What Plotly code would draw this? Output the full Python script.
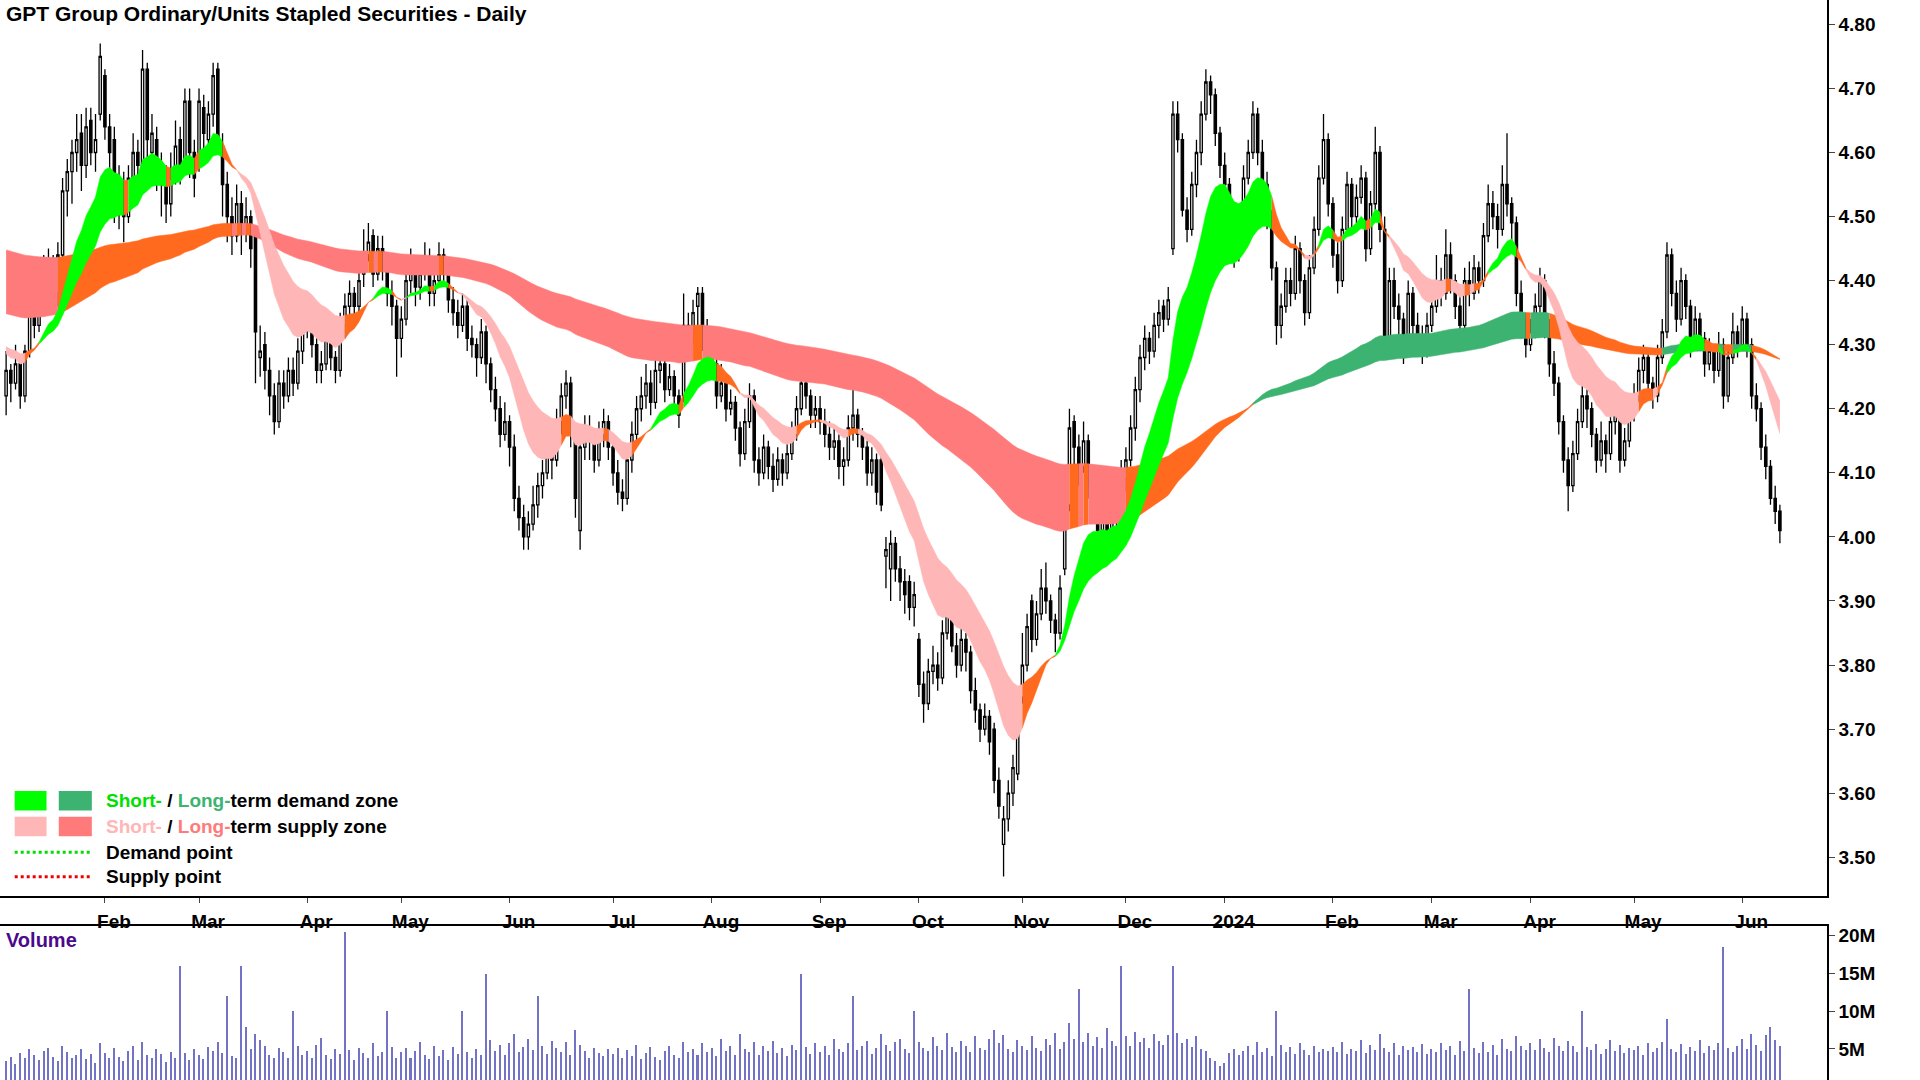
import plotly.graph_objects as go
import numpy as np

# ---------------- data (o, h, l, c) per trading day ----------------
jan23 = [(4.22,4.29,4.19,4.26),(4.26,4.27,4.21,4.24),(4.24,4.30,4.23,4.27),(4.27,4.28,4.20,4.22),(4.22,4.30,4.21,4.29),
         (4.29,4.38,4.28,4.36),(4.38,4.40,4.31,4.33),(4.33,4.40,4.32,4.38),(4.38,4.44,4.36,4.40),(4.40,4.45,4.36,4.42),
         (4.43,4.44,4.35,4.38),(4.38,4.46,4.36,4.44),(4.44,4.56,4.43,4.54),(4.54,4.59,4.50,4.57),(4.57,4.62,4.52,4.60),
         (4.60,4.66,4.57,4.62),(4.63,4.66,4.54,4.58),(4.58,4.67,4.56,4.64),(4.65,4.67,4.58,4.60),(4.60,4.66,4.57,4.62),
         (4.66,4.77,4.65,4.75)]
feb23 = [(4.72,4.73,4.62,4.64),(4.64,4.66,4.57,4.60),(4.62,4.64,4.49,4.52),(4.51,4.58,4.48,4.55),(4.55,4.57,4.46,4.50),
         (4.50,4.58,4.49,4.56),(4.56,4.63,4.54,4.60),(4.60,4.62,4.55,4.58),(4.57,4.76,4.56,4.73),(4.73,4.74,4.59,4.62),
         (4.60,4.66,4.57,4.63),(4.62,4.64,4.54,4.57),(4.57,4.60,4.50,4.55),(4.55,4.58,4.49,4.52),(4.52,4.60,4.50,4.56),
         (4.56,4.65,4.55,4.61),(4.62,4.64,4.55,4.58),(4.58,4.70,4.57,4.68),(4.68,4.70,4.56,4.60),(4.60,4.62,4.53,4.56)]
mar23 = [(4.58,4.70,4.57,4.68),(4.67,4.69,4.60,4.63),(4.62,4.68,4.60,4.66),(4.66,4.74,4.64,4.72),(4.73,4.74,4.60,4.62),
         (4.61,4.63,4.50,4.55),(4.55,4.57,4.46,4.50),(4.50,4.53,4.44,4.47),(4.47,4.55,4.46,4.52),(4.52,4.54,4.44,4.48),
         (4.48,4.53,4.46,4.50),(4.50,4.51,4.42,4.45),(4.47,4.48,4.24,4.32),(4.28,4.33,4.25,4.29),(4.30,4.32,4.23,4.26),
         (4.26,4.28,4.19,4.22),(4.22,4.24,4.16,4.18),(4.18,4.26,4.17,4.24),(4.24,4.26,4.20,4.22),(4.22,4.28,4.21,4.26),
         (4.26,4.28,4.22,4.24),(4.24,4.31,4.23,4.29),(4.29,4.35,4.27,4.33)]
apr23 = [(4.33,4.38,4.31,4.36),(4.36,4.37,4.28,4.30),(4.30,4.31,4.24,4.26),(4.26,4.29,4.24,4.27),(4.27,4.33,4.26,4.31),
         (4.31,4.32,4.26,4.28),(4.28,4.29,4.24,4.26),(4.26,4.35,4.25,4.33),(4.33,4.38,4.31,4.36),(4.36,4.40,4.34,4.38),
         (4.38,4.39,4.33,4.36),(4.36,4.42,4.35,4.40),(4.41,4.48,4.39,4.44),(4.44,4.49,4.43,4.46),(4.47,4.48,4.39,4.41),
         (4.41,4.47,4.40,4.45),(4.45,4.47,4.40,4.43),(4.43,4.44,4.36,4.38),(4.38,4.40,4.33,4.36),(4.36,4.37,4.25,4.31)]
may23 = [(4.31,4.36,4.28,4.34),(4.34,4.42,4.33,4.40),(4.40,4.45,4.38,4.42),(4.42,4.44,4.36,4.39),(4.39,4.43,4.37,4.41),
         (4.41,4.46,4.40,4.43),(4.43,4.45,4.36,4.38),(4.38,4.42,4.36,4.40),(4.40,4.46,4.39,4.44),(4.44,4.45,4.39,4.41),
         (4.41,4.42,4.35,4.37),(4.37,4.39,4.33,4.35),(4.35,4.37,4.31,4.33),(4.33,4.38,4.32,4.36),(4.36,4.37,4.29,4.31),
         (4.31,4.33,4.28,4.30),(4.30,4.31,4.25,4.28),(4.28,4.34,4.27,4.32),(4.32,4.33,4.24,4.27),(4.27,4.28,4.21,4.23),
         (4.23,4.25,4.18,4.20),(4.20,4.22,4.14,4.16),(4.16,4.21,4.15,4.18)]
jun23 = [(4.18,4.19,4.11,4.14),(4.14,4.16,4.04,4.06),(4.06,4.08,4.01,4.03),(4.03,4.05,3.98,4.00),(4.00,4.04,3.98,4.02),
         (4.02,4.08,4.01,4.05),(4.05,4.10,4.03,4.08),(4.08,4.12,4.06,4.10),(4.10,4.16,4.09,4.13),(4.13,4.15,4.09,4.12),
         (4.12,4.20,4.11,4.18),(4.18,4.24,4.16,4.22),(4.22,4.26,4.20,4.24),(4.24,4.25,4.14,4.16),(4.16,4.17,4.03,4.06),
         (4.01,4.16,3.98,4.14),(4.14,4.19,4.12,4.17),(4.17,4.19,4.12,4.15),(4.15,4.17,4.10,4.12),(4.12,4.18,4.11,4.16),
         (4.16,4.20,4.14,4.18),(4.18,4.19,4.12,4.14)]
jul23 = [(4.14,4.15,4.08,4.10),(4.10,4.12,4.05,4.07),(4.07,4.09,4.04,4.06),(4.06,4.14,4.05,4.12),(4.12,4.18,4.10,4.16),
         (4.16,4.22,4.15,4.20),(4.20,4.25,4.18,4.22),(4.22,4.27,4.20,4.24),(4.24,4.26,4.19,4.21),(4.21,4.28,4.20,4.26),
         (4.26,4.30,4.24,4.27),(4.27,4.28,4.21,4.23),(4.23,4.27,4.22,4.25),(4.25,4.26,4.20,4.22),(4.22,4.23,4.17,4.19),
         (4.22,4.38,4.21,4.33),(4.33,4.35,4.28,4.31),(4.31,4.37,4.30,4.35),(4.36,4.39,4.33,4.38),(4.38,4.39,4.29,4.32),
         (4.32,4.34,4.28,4.30)]
aug23 = [(4.30,4.31,4.25,4.27),(4.27,4.29,4.20,4.22),(4.22,4.27,4.21,4.24),(4.24,4.25,4.18,4.20),(4.20,4.23,4.19,4.21),
         (4.21,4.22,4.15,4.17),(4.17,4.18,4.11,4.13),(4.13,4.20,4.12,4.18),(4.18,4.24,4.17,4.22),(4.22,4.23,4.10,4.12),
         (4.12,4.14,4.08,4.10),(4.10,4.16,4.09,4.14),(4.14,4.15,4.09,4.11),(4.11,4.13,4.07,4.09),(4.09,4.14,4.08,4.12),
         (4.12,4.13,4.08,4.10),(4.10,4.15,4.09,4.13),(4.13,4.18,4.12,4.16),(4.16,4.22,4.15,4.20),(4.20,4.27,4.19,4.24),
         (4.24,4.26,4.20,4.22),(4.22,4.23,4.17,4.19),(4.19,4.22,4.17,4.20)]
sep23 = [(4.20,4.22,4.16,4.18),(4.18,4.20,4.14,4.16),(4.16,4.18,4.12,4.14),(4.14,4.17,4.12,4.15),(4.15,4.16,4.09,4.11),
         (4.11,4.14,4.08,4.12),(4.12,4.19,4.11,4.17),(4.17,4.25,4.15,4.19),(4.19,4.20,4.14,4.16),(4.16,4.17,4.12,4.14),
         (4.14,4.15,4.08,4.10),(4.10,4.14,4.08,4.12),(4.12,4.13,4.05,4.07),(4.12,4.13,4.04,4.05),(3.97,4.00,3.92,3.98),
         (3.95,4.01,3.90,3.99),(3.99,4.00,3.93,3.95),(3.95,3.97,3.90,3.93),(3.93,3.95,3.88,3.91),(3.93,3.94,3.87,3.89),
         (3.89,3.93,3.86,3.91)]
oct23 = [(3.84,3.85,3.75,3.77),(3.77,3.79,3.71,3.74),(3.74,3.81,3.73,3.79),(3.79,3.83,3.77,3.80),(3.80,3.82,3.76,3.78),
         (3.78,3.87,3.77,3.85),(3.85,3.93,3.84,3.88),(3.88,3.89,3.82,3.83),(3.83,3.85,3.78,3.80),(3.80,3.86,3.79,3.84),
         (3.84,3.85,3.79,3.82),(3.82,3.83,3.74,3.76),(3.76,3.78,3.71,3.73),(3.73,3.74,3.68,3.70),(3.70,3.74,3.69,3.72),
         (3.72,3.73,3.66,3.68),(3.70,3.71,3.60,3.62),(3.62,3.64,3.56,3.58),(3.52,3.58,3.47,3.56),(3.56,3.62,3.54,3.60),
         (3.60,3.66,3.58,3.64),(3.63,3.72,3.62,3.70)]
nov23 = [(3.75,3.85,3.74,3.80),(3.80,3.88,3.79,3.86),(3.90,3.91,3.82,3.84),(3.84,3.90,3.83,3.88),(3.88,3.95,3.87,3.92),
         (3.92,3.96,3.88,3.90),(3.90,3.91,3.85,3.87),(3.87,3.88,3.82,3.85),(3.85,3.94,3.84,3.92),(3.95,4.08,3.94,4.05),
         (4.05,4.20,4.04,4.17),(4.18,4.19,4.11,4.14),(4.14,4.16,4.08,4.11),(4.11,4.18,4.10,4.15),(4.15,4.16,4.06,4.08),
         (4.08,4.10,4.02,4.04),(4.04,4.06,3.98,4.01),(4.01,4.07,4.00,4.03),(4.03,4.04,3.98,4.00),(4.00,4.09,3.99,4.05),
         (4.05,4.07,4.01,4.03),(4.03,4.12,4.02,4.09)]
dec23 = [(4.09,4.14,4.07,4.12),(4.12,4.19,4.11,4.17),(4.17,4.25,4.15,4.23),(4.23,4.30,4.21,4.28),(4.28,4.33,4.26,4.31),
         (4.31,4.32,4.27,4.29),(4.29,4.35,4.28,4.33),(4.33,4.37,4.31,4.35),(4.36,4.37,4.32,4.34),(4.34,4.39,4.33,4.37),
         (4.45,4.68,4.44,4.66),(4.66,4.68,4.60,4.62),(4.62,4.63,4.50,4.51),(4.51,4.53,4.46,4.48),(4.48,4.57,4.47,4.55),
         (4.55,4.62,4.53,4.60),(4.60,4.68,4.58,4.66),(4.66,4.73,4.65,4.71),(4.71,4.72,4.66,4.69),(4.69,4.70,4.61,4.63),
         (4.63,4.64,4.56,4.58)]
jan24 = [(4.58,4.60,4.53,4.55),(4.55,4.56,4.44,4.46),(4.46,4.48,4.42,4.44),(4.44,4.52,4.43,4.50),(4.50,4.58,4.49,4.56),
         (4.56,4.62,4.55,4.60),(4.60,4.68,4.59,4.66),(4.66,4.67,4.58,4.60),(4.60,4.62,4.53,4.55),(4.55,4.57,4.48,4.50),
         (4.50,4.51,4.40,4.42),(4.42,4.43,4.30,4.33),(4.33,4.38,4.31,4.36),(4.36,4.42,4.35,4.40),(4.40,4.42,4.36,4.38),
         (4.38,4.47,4.37,4.45),(4.45,4.46,4.38,4.40),(4.40,4.41,4.33,4.35),(4.35,4.44,4.34,4.42),(4.42,4.50,4.41,4.48),
         (4.48,4.58,4.47,4.56),(4.56,4.66,4.55,4.62),(4.62,4.63,4.50,4.52)]
feb24 = [(4.52,4.53,4.42,4.44),(4.44,4.46,4.38,4.40),(4.40,4.50,4.39,4.48),(4.48,4.57,4.47,4.55),(4.55,4.56,4.48,4.50),
         (4.50,4.55,4.49,4.53),(4.53,4.58,4.52,4.56),(4.56,4.57,4.43,4.45),(4.45,4.54,4.44,4.52),(4.52,4.64,4.51,4.60),
         (4.60,4.61,4.46,4.48),(4.48,4.50,4.28,4.30),(4.30,4.42,4.29,4.40),(4.40,4.42,4.34,4.36),(4.36,4.38,4.31,4.34),
         (4.34,4.35,4.27,4.30),(4.30,4.40,4.29,4.38),(4.38,4.39,4.31,4.33),(4.33,4.35,4.29,4.31),(4.31,4.33,4.27,4.29),
         (4.29,4.35,4.28,4.33)]
mar24 = [(4.33,4.38,4.32,4.36),(4.36,4.44,4.35,4.40),(4.40,4.42,4.36,4.38),(4.38,4.48,4.37,4.44),(4.44,4.46,4.38,4.40),
         (4.40,4.41,4.34,4.36),(4.36,4.38,4.30,4.33),(4.33,4.42,4.32,4.40),(4.40,4.43,4.36,4.38),(4.38,4.44,4.37,4.42),
         (4.42,4.43,4.38,4.40),(4.40,4.49,4.39,4.47),(4.47,4.55,4.46,4.52),(4.52,4.54,4.48,4.50),(4.50,4.52,4.45,4.48),
         (4.48,4.58,4.47,4.55),(4.55,4.63,4.50,4.52),(4.52,4.53,4.46,4.49),(4.49,4.50,4.36,4.38),(4.38,4.40,4.31,4.34),
         (4.34,4.35,4.28,4.30)]
apr24 = [(4.30,4.34,4.29,4.32),(4.32,4.38,4.31,4.36),(4.36,4.42,4.35,4.40),(4.40,4.41,4.31,4.33),(4.33,4.34,4.25,4.27),
         (4.27,4.29,4.22,4.24),(4.24,4.25,4.16,4.18),(4.18,4.19,4.10,4.12),(4.12,4.14,4.04,4.08),(4.08,4.15,4.07,4.13),
         (4.13,4.20,4.12,4.18),(4.18,4.24,4.17,4.22),(4.22,4.23,4.17,4.20),(4.20,4.21,4.14,4.16),(4.16,4.17,4.10,4.12),
         (4.12,4.18,4.11,4.15),(4.15,4.16,4.10,4.13),(4.13,4.20,4.12,4.18),(4.18,4.22,4.16,4.20),(4.20,4.21,4.10,4.12),
         (4.12,4.17,4.11,4.15),(4.15,4.22,4.14,4.20)]
may24 = [(4.20,4.24,4.18,4.22),(4.22,4.28,4.21,4.26),(4.26,4.30,4.24,4.28),(4.28,4.29,4.22,4.24),(4.24,4.25,4.20,4.22),
         (4.22,4.30,4.21,4.28),(4.28,4.34,4.27,4.32),(4.32,4.46,4.31,4.44),(4.44,4.45,4.36,4.38),(4.38,4.40,4.32,4.34),
         (4.34,4.42,4.33,4.40),(4.40,4.41,4.34,4.36),(4.36,4.37,4.28,4.30),(4.30,4.36,4.29,4.34),(4.34,4.35,4.29,4.31),
         (4.31,4.32,4.25,4.27),(4.27,4.31,4.26,4.29),(4.29,4.30,4.24,4.26),(4.26,4.32,4.25,4.30),(4.30,4.31,4.20,4.22),
         (4.22,4.30,4.21,4.28),(4.28,4.35,4.27,4.32),(4.32,4.33,4.28,4.30)]
jun24 = [(4.30,4.36,4.29,4.34),(4.34,4.35,4.28,4.30),(4.30,4.31,4.20,4.22),(4.22,4.24,4.18,4.20),(4.20,4.21,4.12,4.14),
         (4.14,4.16,4.09,4.11),(4.11,4.12,4.05,4.06),(4.06,4.08,4.02,4.04),(4.04,4.05,3.99,4.01)]

vol_jan23 = [3.5,4,3,4.5,3.8,5,4.2,3.6,4.8,5.2,4,3.5,5.5,4.6,3.9,4.2,5,3.7,4.4,3.2,5.8]
vol_feb23 = [4.5,3.8,5.2,4,3.4,4.8,5.5,3.6,6,4.2,3.9,5,4.4,3.3,4.7,3.8,16,4.5,3.6,5.1]
vol_mar23 = [4.2,3.7,5.3,4.8,6,4.5,12,4.1,3.8,16,8,5,7,6.2,5.5,4.3,3.9,5.2,4.6,3.8,10,5.5,4.2]
vol_apr23 = [4.8,3.9,5.6,6.5,4.2,3.7,5,4.4,20.5,4.9,3.6,5.2,4.5,3.9,5.8,4.1,4.7,10,5.3,3.8]
vol_may23 = [4.6,5.2,3.9,4.8,6,4.3,3.7,5.5,4.1,4.9,3.6,5.3,4.4,10,4.7,3.9,5.1,4.3,15,6.2,4.8,5.6,4.2]
vol_jun23 = [5.8,7,4.6,5.3,6.4,4.9,12,5.5,4.4,6.1,5.2,4.7,5.9,4.3,7.5,5.6,4.8,3.9,5.2,4.5,4.1,5]
vol_jul23 = [4.4,5.2,3.8,4.9,4.1,5.6,3.7,4.5,5.3,4,3.6,4.8,5.5,4.2,3.9,6,4.7,5.1,4.3,5.8,4.6]
vol_aug23 = [5.2,4.1,6.3,4.8,5.5,4.3,7,5.1,4.6,5.9,4.2,5.4,4.8,6.1,4.5,5.2,4.1,5.6,4.9,15,5.3,4.4,5.8]
vol_sep23 = [4.7,5.5,4.2,6.4,5,4.6,5.8,12,4.9,5.4,6.1,4.4,5.2,7,5.6,4.8,5.9,6.3,5.1,4.5,10]
vol_oct23 = [6,5.2,4.8,6.6,5.4,4.9,7.2,5.3,4.7,6.1,5.5,4.6,6.8,5.2,4.9,6.4,7.5,5.8,6.9,5.1,4.7,6.2]
vol_nov23 = [5.5,4.9,6.7,5.2,4.8,6.3,5.6,7.2,5.1,6,8.5,6.4,13,5.9,7.1,5.4,6.6,5.2,7.8,6.1,5.5,16]
vol_dec23 = [6.8,5.4,7.3,5.9,6.5,5.2,7,6.1,5.6,6.9,16,7.2,5.8,6.4,5.3,6.7,5.1,4.8,3.9,3.5,2.8]
vol_jan24 = [3.2,4.5,5.1,4.2,4.8,5.5,4.3,5.9,4.6,5.2,4.1,10,5.6,4.7,5.3,4.4,5.8,4.9,4.2,5.4,4.6,5.1,4.8]
vol_feb24 = [5.3,4.6,5.9,4.4,5.1,4.8,6.2,4.5,5.6,4.9,7,5.2,4.7,5.8,4.3,5.5,4.9,5.3,4.6,5.7,4.4]
vol_mar24 = [5,4.6,5.8,4.9,5.4,4.3,6.1,4.8,13,5.2,4.5,5.9,4.7,5.6,4.2,6.3,5.1,4.8,6.7,5.4,4.9]
vol_apr24 = [5.8,4.9,6.3,5.2,4.7,6.5,5.4,4.8,6.1,5.5,4.6,10,5.3,4.9,5.7,4.4,5.1,6.2,4.8,5.6,4.5,5.2]
vol_may24 = [4.9,5.5,4.3,5.8,4.7,5.2,6,9,5.1,4.6,5.7,4.4,5.3,4.8,6.2,4.5,5.4,4.9,5.8,18.5,5.2,4.7,5.5]
vol_jun24 = [6.4,5.1,7,5.6,4.8,6.9,8,6.2,5.5]

month_labels = ["Feb", "Mar", "Apr", "May", "Jun", "Jul", "Aug", "Sep", "Oct", "Nov", "Dec",
                "2024", "Feb", "Mar", "Apr", "May", "Jun"]
price_ticks = [3.50, 3.60, 3.70, 3.80, 3.90, 4.00, 4.10, 4.20, 4.30, 4.40, 4.50, 4.60, 4.70, 4.80]
vol_ticks = [5e6, 10e6, 15e6, 20e6]
vol_tick_labels = ["5M", "10M", "15M", "20M"]
# starting levels of the zone averages at the left edge
short_seed = [4.29, 4.30]
long_seed = [4.35, 4.45]

months = [jan23, feb23, mar23, apr23, may23, jun23, jul23, aug23, sep23, oct23, nov23, dec23,
          jan24, feb24, mar24, apr24, may24, jun24]
vol_months = [vol_jan23, vol_feb23, vol_mar23, vol_apr23, vol_may23, vol_jun23, vol_jul23, vol_aug23,
              vol_sep23, vol_oct23, vol_nov23, vol_dec23, vol_jan24, vol_feb24, vol_mar24, vol_apr24,
              vol_may24, vol_jun24]

rows = [r for m in months for r in m]
opens = [r[0] for r in rows]
highs = [r[1] for r in rows]
lows = [r[2] for r in rows]
closes = [r[3] for r in rows]
volumes = []
for m, vm in zip(months, vol_months):
    volumes += [v * 1e6 for v in vm[:len(m)]]
n = len(closes)
x = list(range(n))
vx = list(range(len(volumes)))
month_starts = np.cumsum([len(m) for m in months])[:-1].tolist()


def ema(vals, span, seed):
    a = 2.0 / (span + 1)
    out = []
    e = seed
    for v in vals:
        e = e + a * (v - e)
        out.append(e)
    return np.array(out)


s_fast = ema(closes, 13, short_seed[0])
s_slow = ema(closes, 26, short_seed[1])
l_fast = ema(closes, 110, long_seed[0])
l_slow = ema(closes, 185, long_seed[1])

GREEN, DGREEN, ORANGE, PINK, RED = "#00ff00", "#3cb371", "#ff6a1f", "#ffb6b6", "#ff7b7b"

fig = go.Figure()


def add_band(fast, slow, up_col, down_col):
    upper = np.maximum(fast, slow)
    lower = np.minimum(fast, slow)
    cols = []
    for i in range(n):
        slope = slow[i] - slow[i - 1] if i > 0 else slow[1] - slow[0]
        d = fast[i] - slow[i]
        if d > 0 and slope >= 0:
            cols.append(up_col)
        elif d < 0 and slope <= 0:
            cols.append(down_col)
        else:
            cols.append(ORANGE)
    start = 0
    for i in range(1, n + 1):
        if i == n or cols[i] != cols[start]:
            end = min(i, n - 1)
            idx = list(range(start, end + 1))
            fig.add_trace(go.Scatter(x=idx, y=lower[idx], mode="lines",
                                     line=dict(width=0.5, color=cols[start]),
                                     hoverinfo="skip", showlegend=False))
            fig.add_trace(go.Scatter(x=idx, y=upper[idx], mode="lines",
                                     line=dict(width=0.5, color=cols[start]),
                                     fill="tonexty", fillcolor=cols[start],
                                     hoverinfo="skip", showlegend=False))
            start = i


add_band(l_fast, l_slow, DGREEN, RED)
add_band(s_fast, s_slow, GREEN, PINK)

fig.add_trace(go.Candlestick(
    x=x, open=opens, high=highs, low=lows, close=closes,
    increasing=dict(fillcolor="white", line=dict(color="black", width=1.3)),
    decreasing=dict(fillcolor="black", line=dict(color="black", width=1.3)),
    whiskerwidth=0, showlegend=False, xaxis="x", yaxis="y"))

fig.add_trace(go.Bar(x=vx, y=volumes, marker=dict(color="#7272c6", line=dict(width=0)),
                     width=0.32, xaxis="x2", yaxis="y2", showlegend=False))

W, H = 1568.0, 882.0
def px(v): return v / W
def py(v): return 1 - v / H

xr = [-1.3, 387]
tf = dict(size=19, family="Arial", color="black")
fig.update_layout(
    width=1920, height=1080, margin=dict(l=0, r=0, t=0, b=0),
    paper_bgcolor="white", plot_bgcolor="white",
    font=dict(family="Arial, Liberation Sans", color="black"),
    xaxis=dict(domain=[0, px(1492)], range=xr, rangeslider=dict(visible=False),
               tickvals=month_starts, ticktext=[f"<b>{t}</b>" for t in month_labels],
               showgrid=False, zeroline=False, ticklabelshift=9, ticklabelstandoff=2,
               showline=True, linecolor="black", linewidth=1.5, ticks="outside", ticklen=5,
               tickfont=tf, anchor="y"),
    yaxis=dict(domain=[py(732), 1], range=[3.439, 4.838], side="right", tickvals=price_ticks,
               ticktext=[f"<b>{t:.2f}</b>" for t in price_ticks], showgrid=False, zeroline=False,
               showline=True, linecolor="black", linewidth=1.5, ticks="outside", ticklen=6,
               tickfont=tf, anchor="x"),
    xaxis2=dict(domain=[0, px(1492)], range=xr, showticklabels=False, showgrid=False,
                zeroline=False, showline=True, mirror=True, linecolor="black", linewidth=1.5,
                anchor="y2"),
    yaxis2=dict(domain=[0, py(756)], range=[0.9e6, 21.3e6], side="right", tickvals=vol_ticks,
                ticktext=[f"<b>{t}</b>" for t in vol_tick_labels], showgrid=False, zeroline=False,
                showline=True, linecolor="black", linewidth=1.5, ticks="outside", ticklen=6,
                tickfont=tf, anchor="x2"),
    bargap=0,
)

ann = [
    dict(x=px(3), y=py(11), text="<b>GPT Group Ordinary/Units Stapled Securities - Daily</b>",
         font=dict(size=21, family="Arial", color="black")),
    dict(x=px(3), y=py(768), text="<b>Volume</b>", font=dict(size=20, family="Arial", color="#4b0a8c")),
    dict(x=px(85), y=py(654), text="<b><span style='color:#00e000'>Short-</span> / "
         "<span style='color:#3cb371'>Long-</span>term demand zone</b>", font=tf),
    dict(x=px(85), y=py(675), text="<b><span style='color:#ffb6b6'>Short-</span> / "
         "<span style='color:#ff7b7b'>Long-</span>term supply zone</b>", font=tf),
    dict(x=px(85), y=py(696), text="<b>Demand point</b>", font=tf),
    dict(x=px(85), y=py(716), text="<b>Supply point</b>", font=tf),
]
for a in ann:
    a.update(xref="paper", yref="paper", xanchor="left", yanchor="middle", showarrow=False)
fig.update_layout(annotations=ann)

shapes = []
for (x0, x1, yc, col) in [(12, 38, 654, GREEN), (48, 75, 654, DGREEN), (12, 38, 675, PINK), (48, 75, 675, RED)]:
    shapes.append(dict(type="rect", xref="paper", yref="paper", x0=px(x0), x1=px(x1),
                       y0=py(yc + 8), y1=py(yc - 8), fillcolor=col, line=dict(width=0)))
shapes.append(dict(type="line", xref="paper", yref="paper", x0=px(12), x1=px(75), y0=py(696), y1=py(696),
                   line=dict(color="#00dd00", width=3, dash="dot")))
shapes.append(dict(type="line", xref="paper", yref="paper", x0=px(12), x1=px(75), y0=py(716), y1=py(716),
                   line=dict(color="#ee0000", width=3, dash="dot")))
fig.update_layout(shapes=shapes)

fig.write_html("out.html", config={"displayModeBar": False},
               post_script="document.body.style.margin='0';document.body.style.overflow='hidden';")
